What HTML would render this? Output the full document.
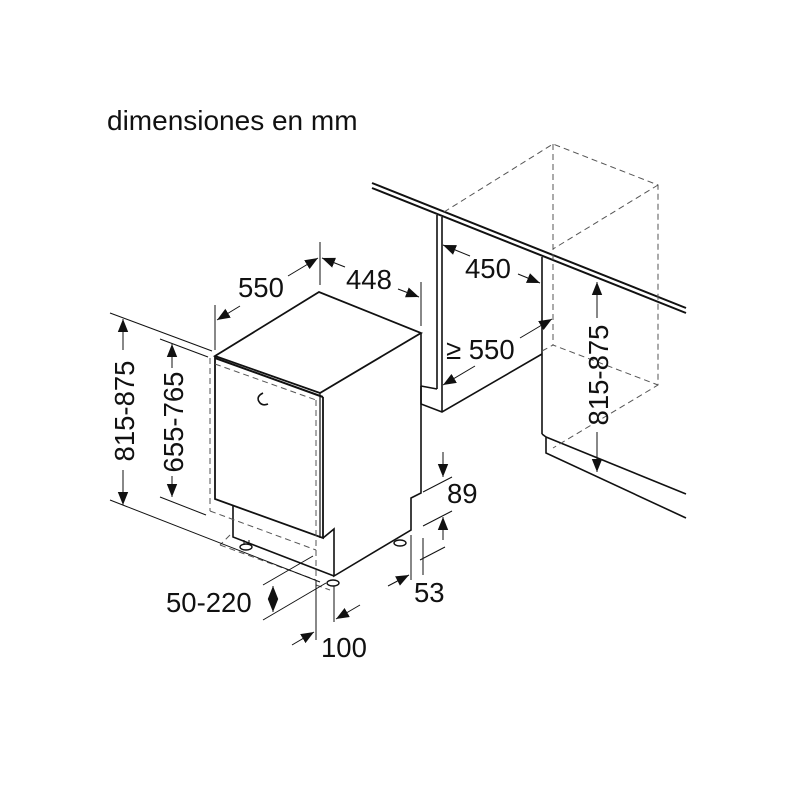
<!DOCTYPE html>
<html><head><meta charset="utf-8"><style>
html,body{margin:0;padding:0;background:#fff}
svg{display:block}
text{font-family:"Liberation Sans",sans-serif;fill:#111}
</style></head><body>
<svg width="800" height="800" viewBox="0 0 800 800" xmlns="http://www.w3.org/2000/svg">
<defs>
<marker id="a" viewBox="0 0 10 10" refX="10" refY="5" markerWidth="13" markerHeight="13" markerUnits="userSpaceOnUse" orient="auto-start-reverse"><path d="M0,1 L10,5 L0,9 z" fill="#111"/></marker>
</defs>
<text x="107" y="130" font-size="28">dimensiones en mm</text>
<g stroke="#111" fill="none" stroke-width="1">
<line x1="372" y1="183" x2="686" y2="308" stroke-width="2"/>
<line x1="372" y1="188" x2="686" y2="313" stroke-width="2"/>
<line x1="437" y1="215" x2="437" y2="389" stroke-width="1.6"/>
<line x1="442" y1="217" x2="442" y2="412" stroke-width="1.6"/>
<polyline points="421,386 421,404 442,412 542,354" stroke-width="1.6"/>
<line x1="421" y1="386" x2="437" y2="389" stroke-width="1.6"/>
<line x1="542" y1="257" x2="542" y2="434" stroke-width="1.6"/>
<polyline points="542,434 546,437 546,453 686,518" stroke-width="1.6"/>
<line x1="546" y1="437" x2="686" y2="494" stroke-width="1.6"/>
<g stroke-dasharray="6,4" stroke="#555">
<polyline points="444,212 553,144 658,185 658,385 553,448"/>
<line x1="553" y1="144" x2="553" y2="345"/>
<polyline points="542,351 553,345 658,385"/>
<line x1="658" y1="185" x2="553" y2="249"/>
</g>
<polygon points="215,356 319,292 421,333 320,393" stroke-width="1.8"/>
<line x1="215" y1="358" x2="323" y2="397" stroke-width="2"/>
<polyline points="215,356 215,499 323,538 323,397" stroke-width="1.8"/>
<line x1="320" y1="393" x2="320" y2="538" stroke-width="1.2"/>
<polyline points="421,333 421,493 411,498 411,530 334,576 334,529 323,538" stroke-width="1.6"/>
<polyline points="233,506 233,537 334,576" stroke-width="1.6"/>
<path d="M263,393 q-8,4 -3,10 q3,3 8,1" stroke-width="1.6"/>
<ellipse cx="246" cy="547" rx="6" ry="3" stroke-width="1.4"/><line x1="244" y1="540" x2="244" y2="545"/><line x1="249" y1="540" x2="249" y2="545"/>
<ellipse cx="333" cy="583" rx="6" ry="3" stroke-width="1.4"/>
<ellipse cx="400" cy="543" rx="6" ry="3" stroke-width="1.4"/>
<g stroke-dasharray="6,4" stroke="#555">
<line x1="210" y1="358" x2="210" y2="511"/>
<line x1="316" y1="400" x2="316" y2="580"/>
<line x1="215" y1="364" x2="316" y2="400"/>
<line x1="210" y1="511" x2="316" y2="550"/>
<line x1="220" y1="545" x2="316" y2="580"/>
<line x1="230" y1="535" x2="220" y2="545"/>
<line x1="316" y1="585" x2="330" y2="590"/>
</g>
<line x1="110" y1="313" x2="212" y2="351"/>
<line x1="110" y1="500" x2="320" y2="582"/>
<line x1="123" y1="319" x2="123" y2="350" marker-start="url(#a)"/>
<line x1="123" y1="470" x2="123" y2="505" marker-end="url(#a)"/>
<line x1="160" y1="339" x2="208" y2="357"/>
<line x1="160" y1="497" x2="206" y2="515"/>
<line x1="172" y1="344" x2="172" y2="368" marker-start="url(#a)"/>
<line x1="172" y1="476" x2="172" y2="497" marker-end="url(#a)"/>
<line x1="215" y1="305" x2="215" y2="350"/>
<line x1="320" y1="242" x2="320" y2="285"/>
<line x1="217" y1="320" x2="240" y2="306" marker-start="url(#a)"/>
<line x1="288" y1="276" x2="318" y2="258" marker-end="url(#a)"/>
<line x1="421" y1="282" x2="421" y2="326"/>
<line x1="322" y1="258" x2="345" y2="267" marker-start="url(#a)"/>
<line x1="398" y1="289" x2="419" y2="297" marker-end="url(#a)"/>
<line x1="443" y1="245" x2="470" y2="256" marker-start="url(#a)"/>
<line x1="518" y1="274" x2="540" y2="283" marker-end="url(#a)"/>
<line x1="443" y1="385" x2="475" y2="366" marker-start="url(#a)"/>
<line x1="520" y1="338" x2="552" y2="319" marker-end="url(#a)"/>
<line x1="597" y1="282" x2="597" y2="318" marker-start="url(#a)"/>
<line x1="597" y1="432" x2="597" y2="472" marker-end="url(#a)"/>
<line x1="443" y1="452" x2="443" y2="477" marker-end="url(#a)"/>
<line x1="423" y1="492" x2="452" y2="477"/>
<line x1="423" y1="526" x2="452" y2="511"/>
<line x1="443" y1="540" x2="443" y2="517" marker-end="url(#a)"/>
<line x1="420" y1="560" x2="445" y2="547"/>
<line x1="423" y1="538" x2="423" y2="575"/>
<line x1="411" y1="535" x2="411" y2="580"/>
<line x1="388" y1="586" x2="409" y2="575" marker-end="url(#a)"/>
<line x1="263" y1="585" x2="313" y2="556"/>
<line x1="263" y1="620" x2="326" y2="583"/>
<line x1="273" y1="598" x2="273" y2="586" marker-end="url(#a)"/>
<line x1="273" y1="600" x2="273" y2="612" marker-end="url(#a)"/>
<line x1="316" y1="580" x2="316" y2="640"/>
<line x1="334" y1="586" x2="334" y2="622"/>
<line x1="292" y1="645" x2="314" y2="632" marker-end="url(#a)"/>
<line x1="360" y1="605" x2="336" y2="619" marker-end="url(#a)"/>
</g>
<g font-size="27.5">
<text x="238" y="297">550</text>
<text x="346" y="289">448</text>
<text x="465" y="278">450</text>
<text x="446" y="359">≥ 550</text>
<text x="447" y="503">89</text>
<text x="414" y="602">53</text>
<text x="166" y="612">50-220</text>
<text x="321" y="657">100</text>
<text transform="translate(134,411) rotate(-90)" text-anchor="middle">815-875</text>
<text transform="translate(183,422) rotate(-90)" text-anchor="middle">655-765</text>
<text transform="translate(608,375) rotate(-90)" text-anchor="middle">815-875</text>
</g>
</svg>
</body></html>
